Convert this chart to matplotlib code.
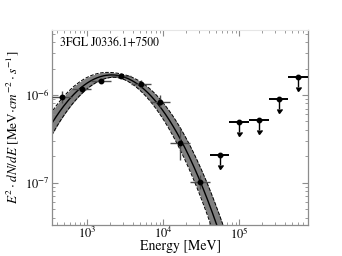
import numpy as np
import matplotlib
matplotlib.use("Agg")
import matplotlib.pyplot as plt
from matplotlib.ticker import LogLocator, NullFormatter

plt.rcParams['font.family'] = ['STIXGeneral', 'DejaVu Serif']
plt.rcParams['mathtext.fontset'] = 'stix'

# ---- data ----
source_name = "3FGL J0336.1+7500"
# detected flux points (MeV, MeV cm^-2 s^-1)
pt_e = [466, 847, 1538, 2792, 5070, 9204, 16750, 30400]
pt_elo = [346, 628, 1140, 2070, 3758, 6839, 12420, 22540]
pt_ehi = [628, 1140, 2070, 3758, 6839, 12420, 22540, 40930]
pt_f = [9.6e-7, 1.17e-6, 1.44e-6, 1.64e-6, 1.33e-6, 8.26e-7, 2.82e-7, 1.03e-7]
pt_fhi = [1.11e-6, 1.22e-6, 1.50e-6, 1.70e-6, 1.48e-6, 1.00e-6, 4.19e-7, 1.23e-7]
pt_flo = [8.05e-7, 1.12e-6, 1.38e-6, 1.58e-6, 1.19e-6, 7.36e-7, 1.82e-7, 8.4e-8]
# upper limits
ul_e = [55200, 100200, 182000, 330000, 600000]
ul_elo = [40930, 74300, 134900, 244900, 444600]
ul_ehi = [74300, 134900, 244900, 444600, 807200]
ul_f = [2.08e-7, 4.90e-7, 5.20e-7, 9.0e-7, 1.61e-6]
ul_arrow_frac = 0.23

# log-parabola model (E^2 dN/dE) and its uncertainty band
model_logEp = 3.323      # log10 peak energy [MeV]
model_logFp = -5.772     # log10 peak flux
model_beta = 0.894       # curvature (log10-log10)
band_s0 = 0.025          # band half-width at pivot (dex)
band_s1 = 0.15           # band growth (dex per dex)
band_pivot = 3.4

xlim = (346, 807200)
ylim = (3.3e-8, 5.5e-6)

# ---- figure ----
fig = plt.figure(figsize=(3.42, 2.56), dpi=100)
ax = fig.add_axes([0.152, 0.121, 0.749, 0.762])

lx = np.linspace(np.log10(xlim[0]) - 0.1, 5.0, 300)
ly = model_logFp - model_beta * (lx - model_logEp) ** 2
lw_ = np.sqrt(band_s0 ** 2 + (band_s1 * (lx - band_pivot)) ** 2)
E = 10 ** lx
ax.fill_between(E, 10 ** (ly - lw_), 10 ** (ly + lw_), color='#808080', lw=0, zorder=1)
ax.plot(E, 10 ** (ly + lw_), color='k', lw=0.7, ls='--', zorder=2)
ax.plot(E, 10 ** (ly - lw_), color='k', lw=0.7, ls='--', zorder=2)
ax.plot(E, 10 ** ly, color='k', lw=1.0, zorder=2)

pe = np.array(pt_e, float); pf = np.array(pt_f, float)
xerr = [pe - np.array(pt_elo), np.array(pt_ehi) - pe]
yerr = [pf - np.array(pt_flo), np.array(pt_fhi) - pf]
ax.errorbar(pe, pf, xerr=xerr, yerr=yerr, fmt='o', color='k', ms=3.2,
            ecolor='0.3', elinewidth=1.0, capsize=0, zorder=4)

ue = np.array(ul_e, float); uf = np.array(ul_f, float)
ax.errorbar(ue, uf, xerr=[ue - np.array(ul_elo), np.array(ul_ehi) - ue],
            fmt='o', color='k', ms=3.2, ecolor='k', elinewidth=1.4,
            capsize=0, zorder=4)
ax.errorbar(ue, uf, yerr=uf * ul_arrow_frac, uplims=True, fmt='none',
            color='k', ecolor='k', elinewidth=1.0, capsize=1.8, zorder=4)

ax.set_xscale('log')
ax.set_yscale('log')
ax.set_xlim(*xlim)
ax.set_ylim(*ylim)

ax.xaxis.set_major_locator(LogLocator(base=10, numticks=10))
ax.xaxis.set_minor_locator(LogLocator(base=10, subs=np.arange(2, 10), numticks=20))
ax.yaxis.set_minor_locator(LogLocator(base=10, subs=np.arange(2, 10), numticks=20))
ax.xaxis.set_minor_formatter(NullFormatter())
ax.yaxis.set_minor_formatter(NullFormatter())

ax.tick_params(which='both', direction='in', top=True, right=True,
               color='0.55', labelsize=9)
ax.tick_params(axis='x', pad=0.5)
ax.tick_params(axis='y', pad=1.5)
ax.tick_params(which='major', length=4, width=0.8)
ax.tick_params(which='minor', length=2, width=0.6)
for s in ['left', 'right', 'bottom']:
    ax.spines[s].set_color('0.55')
    ax.spines[s].set_linewidth(0.9)
ax.spines['top'].set_color('0.9')
ax.spines['top'].set_linewidth(0.8)

ax.set_xlabel('Energy [MeV]', fontsize=10, va='center')
ax.xaxis.set_label_coords(0.5, -0.108)
ax.set_ylabel(r'$E^2\cdot dN/dE$ [MeV$\cdot cm^{-2}\cdot s^{-1}$]', fontsize=9.5, va='center')
ax.yaxis.set_label_coords(-0.152, 0.5)
ax.text(0.03, 0.935, source_name, transform=ax.transAxes, fontsize=8.5,
        ha='left', va='center')

fig.savefig('out.png', dpi=100)
